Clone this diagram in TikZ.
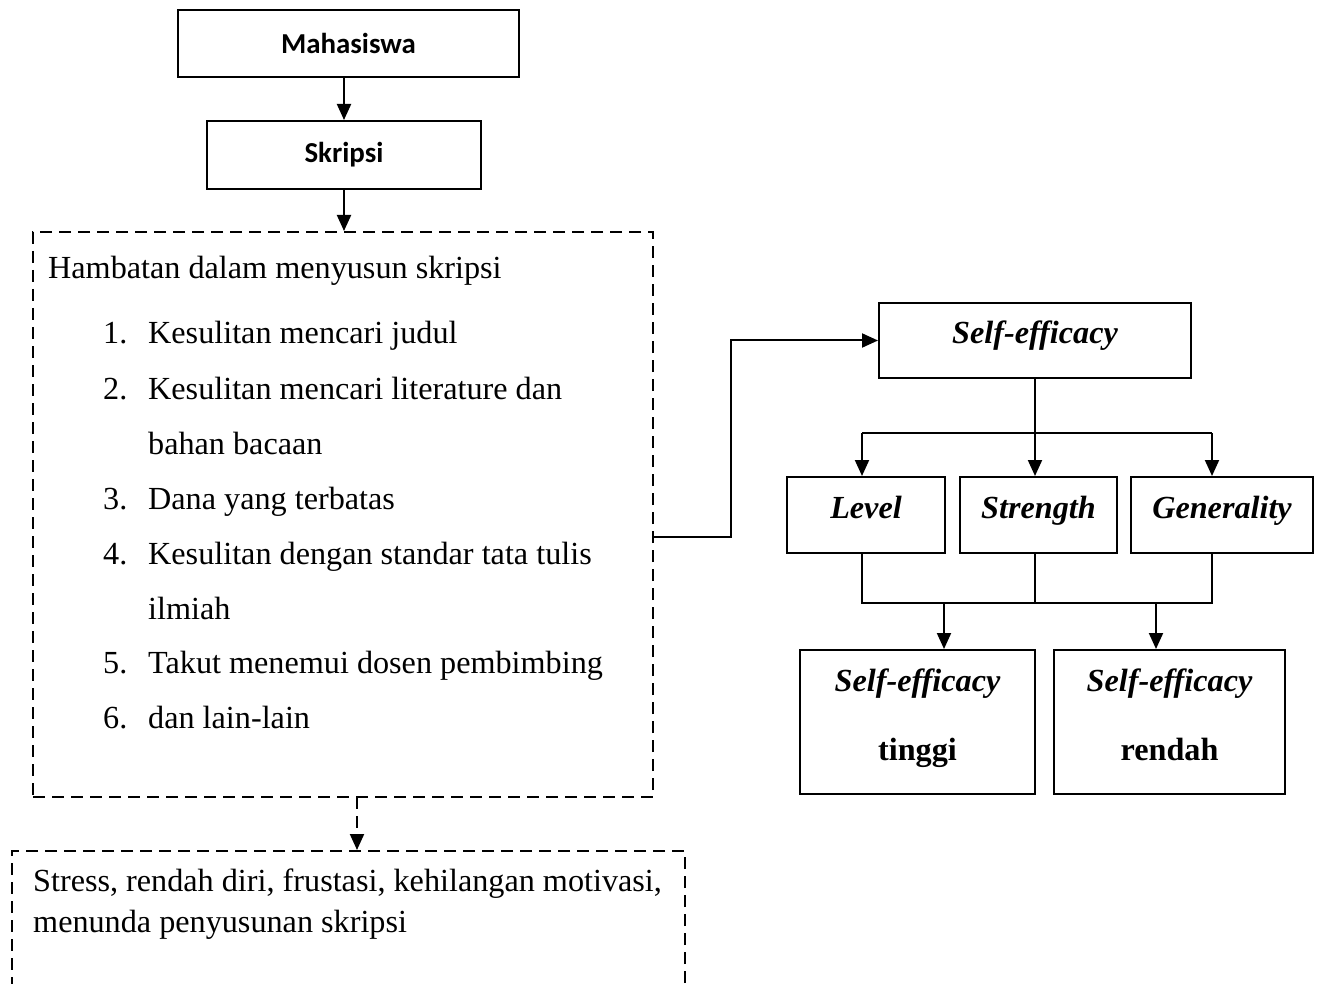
\documentclass[tikz,border=0pt]{standalone}
\usepackage{fontspec}
\setmainfont{Liberation Serif}
\newfontfamily\calibri{Carlito}
\usetikzlibrary{arrows.meta}

\begin{document}
\begin{tikzpicture}[x=1pt,y=1pt,
  box/.style={draw, line width=2pt, inner sep=0pt},
  dashbox/.style={draw, line width=2pt, dash pattern=on 12pt off 7pt, inner sep=0pt},
  teks/.style={font=\fontsize{32.2}{40}\selectfont, inner sep=0pt},
  miring/.style={font=\fontsize{32.2}{40}\selectfont\bfseries\itshape, text height=22pt, text depth=16pt},
  tebal/.style={font=\fontsize{32.2}{40}\selectfont\bfseries, inner sep=0pt},
  judulbox/.style={font=\calibri\bfseries\fontsize{28.9}{34}\selectfont},
  garis/.style={line width=1.8pt},
  panah/.style={-{Triangle[length=16pt,width=14pt]}, line width=2pt}]

  \useasboundingbox (0,0) rectangle (1320,-984);
  \clip (0,0) rectangle (1320,-984);

  % Kolom kiri
  \node[box, judulbox, minimum width=341, minimum height=67] (mahasiswa) at (348.5,-43.5) {Mahasiswa};
  \node[box, judulbox, minimum width=274, minimum height=68] (skripsi) at (344,-155) {Skripsi};
  \node[dashbox, minimum width=620, minimum height=565] (hambatan) at (343,-514.5) {};
  \node[dashbox, minimum width=673, minimum height=200, anchor=north] (dampak) at (348.5,-850) {};

  \draw[panah] (skripsi.north |- mahasiswa.south) -- (skripsi.north);
  \draw[panah] (skripsi.south) -- (skripsi.south |- hambatan.north);

  % Isi kotak hambatan
  \node[teks, anchor=base west] (judul) at (48,-279) {Hambatan dalam menyusun skripsi};
  \node[teks, anchor=base west] (no1) at (103,-344) {1.};
  \node[teks, anchor=base west] (butir1) at (148,-344) {Kesulitan mencari judul};
  \node[teks, anchor=base west] (no2) at (103,-399) {2.};
  \node[teks, anchor=base west] (butir2) at (148,-399) {Kesulitan mencari literature dan};
  \node[teks, anchor=base west] (butir2b) at (148,-454) {bahan bacaan};
  \node[teks, anchor=base west] (no3) at (103,-509) {3.};
  \node[teks, anchor=base west] (butir3) at (148,-509) {Dana yang terbatas};
  \node[teks, anchor=base west] (no4) at (103,-564) {4.};
  \node[teks, anchor=base west] (butir4) at (148,-564) {Kesulitan dengan standar tata tulis};
  \node[teks, anchor=base west] (butir4b) at (148,-619) {ilmiah};
  \node[teks, anchor=base west] (no5) at (103,-673) {5.};
  \node[teks, anchor=base west] (butir5) at (148,-673) {Takut menemui dosen pembimbing};
  \node[teks, anchor=base west] (no6) at (103,-728) {6.};
  \node[teks, anchor=base west] (butir6) at (148,-728) {dan lain-lain};

  % Isi kotak dampak
  \node[teks, anchor=base west] (dampak1) at (33,-891.5) {Stress, rendah diri, frustasi, kehilangan motivasi,};
  \node[teks, anchor=base west] (dampak2) at (33,-932.5) {menunda penyusunan skripsi};

  \coordinate (turun) at (357,-797);
  \draw[panah, dash pattern=on 12pt off 7pt] (turun) -- (turun |- dampak.north);

  % Kolom kanan
  \node[box, miring, minimum width=312, minimum height=75] (selfeff) at (1035,-340.5) {Self-efficacy};
  \node[box, miring, minimum width=158, minimum height=76] (level) at (866,-515) {Level};
  \node[box, miring, minimum width=157, minimum height=76] (strength) at (1038.5,-515) {Strength};
  \node[box, miring, minimum width=182, minimum height=76] (generality) at (1222,-515) {Generality};
  \node[box, minimum width=235, minimum height=144] (tinggi) at (917.5,-722) {};
  \node[box, minimum width=231, minimum height=144] (rendah) at (1169.5,-722) {};
  \node[tebal, anchor=base] (tinggi1) at (917.5,-691) {\itshape Self-efficacy};
  \node[tebal, anchor=base] (tinggi2) at (917.5,-760) {tinggi};
  \node[tebal, anchor=base] (rendah1) at (1169.5,-691) {\itshape Self-efficacy};
  \node[tebal, anchor=base] (rendah2) at (1169.5,-760) {rendah};

  \draw[panah] (hambatan.east) ++(0,-22.5) -- ++(77,0) |- (selfeff.west);

  % Cabang ke tiga dimensi
  \coordinate (cabangkiri) at (862,-433);
  \coordinate (cabangkanan) at (1212,-433);
  \draw[garis] (selfeff.south) -- (selfeff.south |- cabangkiri);
  \draw[garis] (cabangkiri) -- (cabangkanan);
  \draw[panah] (cabangkiri) -- (cabangkiri |- level.north);
  \draw[panah] (selfeff.south |- cabangkiri) -- (selfeff.south |- strength.north);
  \draw[panah] (cabangkanan) -- (cabangkanan |- generality.north);

  % Gabungan ke hasil
  \coordinate (gabungkiri) at (862,-603);
  \coordinate (gabungkanan) at (1212,-603);
  \draw[garis] (gabungkiri |- level.south) -- (gabungkiri) -- (gabungkanan) -- (gabungkanan |- generality.south);
  \draw[garis] (selfeff.south |- strength.south) -- (selfeff.south |- gabungkiri);
  \coordinate (ketinggi) at (944,-603);
  \coordinate (kerendah) at (1156,-603);
  \draw[panah] (ketinggi) -- (ketinggi |- tinggi.north);
  \draw[panah] (kerendah) -- (kerendah |- rendah.north);
\end{tikzpicture}
\end{document}
